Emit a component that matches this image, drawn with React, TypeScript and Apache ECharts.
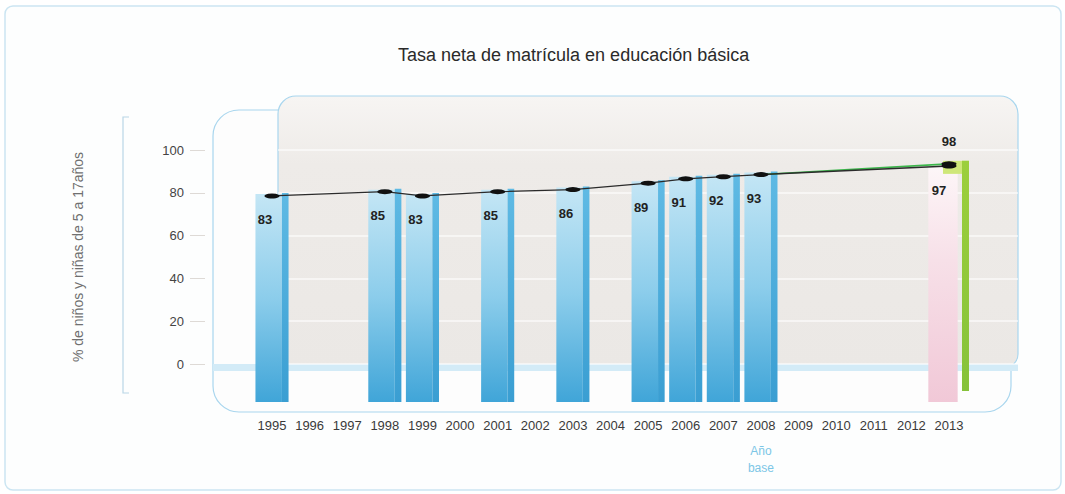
import React, { useEffect, useRef } from "react";
import * as echarts from "echarts";

const YEARS = ["1995","1996","1997","1998","1999","2000","2001","2002","2003","2004","2005","2006","2007","2008","2009","2010","2011","2012","2013"];
const ENROLLMENT = [83, null, null, 85, 83, null, 85, null, 86, null, 89, 91, 92, 93, null, null, null, null, 97];
const BASE_YEAR = "2008";
const TARGET_YEAR = "2013";
const TARGET_VALUE = 98;
const Y_MIN = 0;
const Y_MAX = 100;
const Y_INTERVAL = 20;
// scale used to place the marks (the drawing's marks sit slightly below the printed ruler)
const DATA_MIN = -13.3;
const DATA_MAX = 110;

const TITLE = "Tasa neta de matrícula en educación básica";
const Y_NAME = "% de niños y niñas de 5 a 17años";
const FONT = "'Liberation Sans', Arial, sans-serif";

const lin = (stops: [number, string][]) => ({
  type: "linear", x: 0, y: 0, x2: 0, y2: 1,
  colorStops: stops.map(([offset, color]) => ({ offset, color })),
});

export default function App() {
  const ref = useRef<HTMLDivElement>(null);
  useEffect(() => {
    if (!ref.current) return;
    const chart = echarts.init(ref.current, null, { renderer: "svg" });
    const baseIdx = YEARS.indexOf(BASE_YEAR);
    const targetIdx = YEARS.indexOf(TARGET_YEAR);

    const blueBars = ENROLLMENT.map((v, i) => [i, v]).filter(([i, v]) => v != null && i !== targetIdx);
    const pinkBars = [[targetIdx, ENROLLMENT[targetIdx]]];
    const greenBars = [[targetIdx, TARGET_VALUE]];

    const greenLine = YEARS.map((_, i) => {
      if (i === baseIdx) return { value: ENROLLMENT[baseIdx], symbol: "none", label: { show: false } };
      if (i === targetIdx) return { value: TARGET_VALUE };
      return null;
    });
    const blackLine = ENROLLMENT.map((v, i) =>
      i === targetIdx ? { value: v, label: { offset: [-10, 0] } } : v
    );

    const option: any = {
      animation: false,
      backgroundColor: "#ffffff",
      textStyle: { fontFamily: FONT },
      title: {
        text: TITLE,
        left: 393,
        top: 41,
        textStyle: { fontSize: 18, fontWeight: "normal", color: "#2a2a2a", fontFamily: FONT },
      },
      graphic: [
        { type: "rect", z: -100, shape: { x: 5, y: 6, width: 1056, height: 484, r: 8 },
          style: { fill: "#fdfefe", stroke: "#cbe5f2", lineWidth: 1.5 } },
        { type: "polyline", z: -90, shape: { points: [[129, 117], [123, 117], [123, 393], [129, 393]] },
          style: { stroke: "#b9d6e6", lineWidth: 1.2, fill: null } },
        { type: "rect", z: -90, shape: { x: 213, y: 110, width: 798, height: 302, r: 26 },
          style: { fill: "#fdfdfd", stroke: "#a9d6ee", lineWidth: 1.2 } },
        { type: "rect", z: -80, shape: { x: 278, y: 96, width: 740, height: 272, r: [18, 18, 14, 14] },
          style: { fill: lin([[0, "#f7f5f3"], [0.25, "#eeebe8"], [1, "#ebe8e5"]]), stroke: "#a9d6ee", lineWidth: 1.2 } },
        { type: "rect", z: -70, shape: { x: 213, y: 364, width: 805, height: 7 },
          style: { fill: "#d3ebf7" } },
      ],
      grid: [
        { left: 253.2, width: 714.6, top: 138.2, height: 263.8 },
        { left: 190, width: 20, top: 150, height: 214 },
        { left: 278, width: 740, top: 150, height: 214 },
      ],
      xAxis: [
        {
          gridIndex: 0, type: "category", data: YEARS, boundaryGap: true,
          axisLine: { show: false }, axisTick: { show: false },
          axisLabel: { color: "#3a3a3a", fontSize: 13, margin: 17, interval: 0, fontFamily: FONT },
        },
        { gridIndex: 1, type: "value", show: false },
        { gridIndex: 2, type: "value", show: false },
      ],
      yAxis: [
        { gridIndex: 0, type: "value", min: DATA_MIN, max: DATA_MAX, show: false },
        {
          gridIndex: 1, type: "value", min: Y_MIN, max: Y_MAX, interval: Y_INTERVAL,
          axisLine: { show: false },
          axisTick: { show: true, inside: true, length: 15, lineStyle: { color: "#dedad6" } },
          axisLabel: { color: "#444", fontSize: 13, margin: 6, fontFamily: FONT },
          splitLine: { show: false },
          name: Y_NAME, nameLocation: "middle", nameGap: 105, nameRotate: 90,
          nameTextStyle: { color: "#707070", fontSize: 14, fontFamily: FONT },
        },
        {
          gridIndex: 2, type: "value", min: Y_MIN, max: Y_MAX, interval: Y_INTERVAL,
          axisLine: { show: false }, axisTick: { show: false }, axisLabel: { show: false },
          splitLine: { show: true, lineStyle: { color: "rgba(255,255,255,0.75)", width: 1.5 } },
        },
      ],
      series: [
        {
          type: "custom", xAxisIndex: 0, yAxisIndex: 0, data: blueBars, z: 2,
          renderItem: (params: any, api: any) => {
            const top = api.coord([api.value(0), api.value(1)]);
            const base = api.coord([api.value(0), DATA_MIN]);
            const band = api.size([1, 0])[0];
            const w = band * 0.88;
            const x0 = top[0] - w / 2;
            const sw = w * 0.2;
            const h = base[1] - top[1];
            return {
              type: "group",
              children: [
                { type: "rect", shape: { x: x0, y: top[1] - 2, width: w - sw, height: h + 2 },
                  style: { fill: lin([[0, "#c4e6f5"], [0.5, "#8ccdeb"], [1, "#40a5d8"]]) } },
                { type: "rect", shape: { x: x0 + w - sw, y: top[1] - 3, width: sw, height: h + 3 },
                  style: { fill: lin([[0, "#5fbae4"], [1, "#3a9ed2"]]) } },
              ],
            };
          },
        },
        {
          type: "custom", xAxisIndex: 0, yAxisIndex: 0, data: pinkBars, z: 2,
          renderItem: (params: any, api: any) => {
            const top = api.coord([api.value(0), api.value(1)]);
            const base = api.coord([api.value(0), DATA_MIN]);
            const band = api.size([1, 0])[0];
            const w = band * 0.78;
            const x0 = top[0] - w / 2 - 6;
            return {
              type: "rect", shape: { x: x0, y: top[1], width: w, height: base[1] - top[1] },
              style: { fill: lin([[0, "#fdf6f8"], [0.4, "#f7e0e8"], [1, "#f1c8d7"]]) },
            };
          },
        },
        {
          type: "custom", xAxisIndex: 0, yAxisIndex: 0, data: greenBars, z: 3,
          renderItem: (params: any, api: any) => {
            const top = api.coord([api.value(0), api.value(1)]);
            const base = api.coord([api.value(0), DATA_MIN]);
            const c = top[0];
            return {
              type: "group",
              children: [
                { type: "rect", shape: { x: c - 6, y: top[1] - 3, width: 26, height: 13 },
                  style: { fill: "#cfe77a" } },
                { type: "rect", shape: { x: c + 13, y: top[1] - 3, width: 7, height: base[1] - top[1] - 8 },
                  style: { fill: lin([[0, "#9ccf3c"], [1, "#86c23a"]]) } },
              ],
            };
          },
        },
        {
          type: "line", xAxisIndex: 0, yAxisIndex: 0, data: greenLine, connectNulls: true, z: 4,
          symbol: "circle", symbolSize: [15, 5],
          itemStyle: { color: "#111" },
          lineStyle: { color: "#3cb64b", width: 1.6 },
          label: { show: true, position: "top", distance: 13, color: "#222", fontSize: 13, fontWeight: "bold", fontFamily: FONT },
        },
        {
          type: "line", xAxisIndex: 0, yAxisIndex: 0, data: blackLine, connectNulls: true, z: 5,
          symbol: "circle", symbolSize: [15, 5],
          itemStyle: { color: "#111" },
          lineStyle: { color: "#2b2b2b", width: 1.3 },
          label: { show: true, position: "bottom", distance: 15, offset: [-7, 0], color: "#222", fontSize: 13, fontWeight: "bold", fontFamily: FONT },
        },
      ],
    };
    chart.setOption(option);

    const bx = chart.convertToPixel({ xAxisIndex: 0 }, BASE_YEAR) as number;
    chart.setOption({
      graphic: [
        ...option.graphic,
        { type: "text", x: bx, y: 459, z: 10,
          style: { text: "Año\nbase", fill: "#7cc6e6", fontSize: 12, lineHeight: 17, align: "center", verticalAlign: "middle", fontFamily: FONT } },
      ],
    });
    return () => chart.dispose();
  }, []);
  return <div ref={ref} style={{ position: "fixed", left: 0, top: 0, width: 1065, height: 494 }} />;
}
